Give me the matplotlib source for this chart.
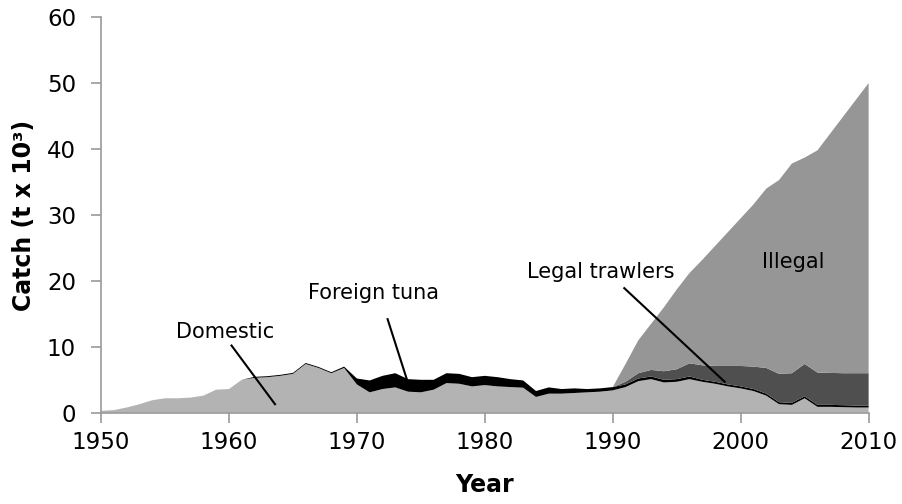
import matplotlib.pyplot as plt
import numpy as np

years = np.arange(1950, 2011)

domestic = [0.3, 0.4, 0.8, 1.3, 1.9, 2.2, 2.2, 2.3, 2.6, 3.5,
            3.6, 5.0, 5.3, 5.4, 5.6, 5.9, 7.4, 6.8, 6.0, 6.8,
            4.3, 3.1, 3.6, 3.85, 3.2, 3.1, 3.5, 4.5, 4.4, 4.0,
            4.2, 4.0, 3.9, 3.8, 2.4, 2.9, 2.9, 3.0, 3.1, 3.2,
            3.4, 3.9, 4.8, 5.1, 4.6, 4.7, 5.1, 4.7, 4.4, 4.0,
            3.7, 3.3, 2.6, 1.3, 1.2, 2.2, 0.9, 0.9, 0.85, 0.8,
            0.8]

foreign_tuna = [0, 0, 0, 0, 0, 0, 0, 0, 0, 0,
                0, 0, 0.15, 0.15, 0.15, 0.15, 0.15, 0.15, 0.15, 0.2,
                0.9, 1.8, 2.0, 2.15, 1.9, 1.9, 1.5, 1.5, 1.5, 1.4,
                1.4, 1.4, 1.2, 1.1, 0.9, 0.95, 0.7, 0.7, 0.5, 0.5,
                0.5, 0.4, 0.4, 0.4, 0.4, 0.4, 0.4, 0.3, 0.3, 0.3,
                0.3, 0.3, 0.3, 0.3, 0.3, 0.3, 0.3, 0.3, 0.3, 0.3,
                0.3]

legal_trawlers = [0] * 41 + [0.4, 0.8, 1.0, 1.3, 1.5, 2.0, 2.2, 2.4, 2.8,
                             3.1, 3.4, 3.9, 4.3, 4.5, 4.9, 4.9, 4.85, 4.85, 4.9,
                             4.9]

illegal = [0] * 41 + [2.7, 5.0, 7.0, 9.7, 12.1, 13.7, 16.0, 18.2, 20.3,
                      22.4, 24.6, 27.2, 29.4, 31.8, 31.3, 33.7, 36.3, 38.9, 41.45,
                      44.0]

colors = ["#b3b3b3", "black", "#4f4f4f", "#969696"]

fig = plt.figure(figsize=(9.02, 5.04), dpi=100)
ax = fig.add_axes([0.112, 0.181, 0.851, 0.785])

ax.stackplot(years, domestic, foreign_tuna, legal_trawlers, illegal,
             colors=colors, linewidth=0)

ax.set_xlim(1950, 2010)
ax.set_ylim(0, 60)
ax.set_xticks([1950, 1960, 1970, 1980, 1990, 2000, 2010])
ax.set_yticks([0, 10, 20, 30, 40, 50, 60])

for s in ["top", "right"]:
    ax.spines[s].set_visible(False)
for s in ["left", "bottom"]:
    ax.spines[s].set_color("#9a9a9a")
    ax.spines[s].set_linewidth(1.2)
    ax.spines[s].set_zorder(5)

ax.tick_params(colors="#9a9a9a", labelcolor="black", labelsize=16.5,
               length=7, width=1.2)
ax.tick_params(axis="x", pad=6)
ax.tick_params(axis="y", pad=11)

ax.set_xlabel("Year", fontsize=17, fontweight="bold", labelpad=14)
ax.set_ylabel("Catch (t x 10³)", fontsize=17, fontweight="bold", labelpad=8)

# labels with pointer lines
ax.text(1959.7, 12.3, "Domestic", fontsize=15, ha="center", va="center")
ax.plot([1960.2, 1963.6], [10.2, 1.3], color="black", lw=1.5)

ax.text(1971.3, 18.2, "Foreign tuna", fontsize=15, ha="center", va="center")
ax.plot([1972.4, 1973.9], [14.2, 5.1], color="black", lw=1.5)

ax.text(1989.1, 21.3, "Legal trawlers", fontsize=15, ha="center", va="center")
ax.plot([1990.9, 1998.75], [18.9, 4.7], color="black", lw=1.5)

ax.text(2004.1, 22.8, "Illegal", fontsize=15, ha="center", va="center")

plt.savefig("out.png", dpi=100)
